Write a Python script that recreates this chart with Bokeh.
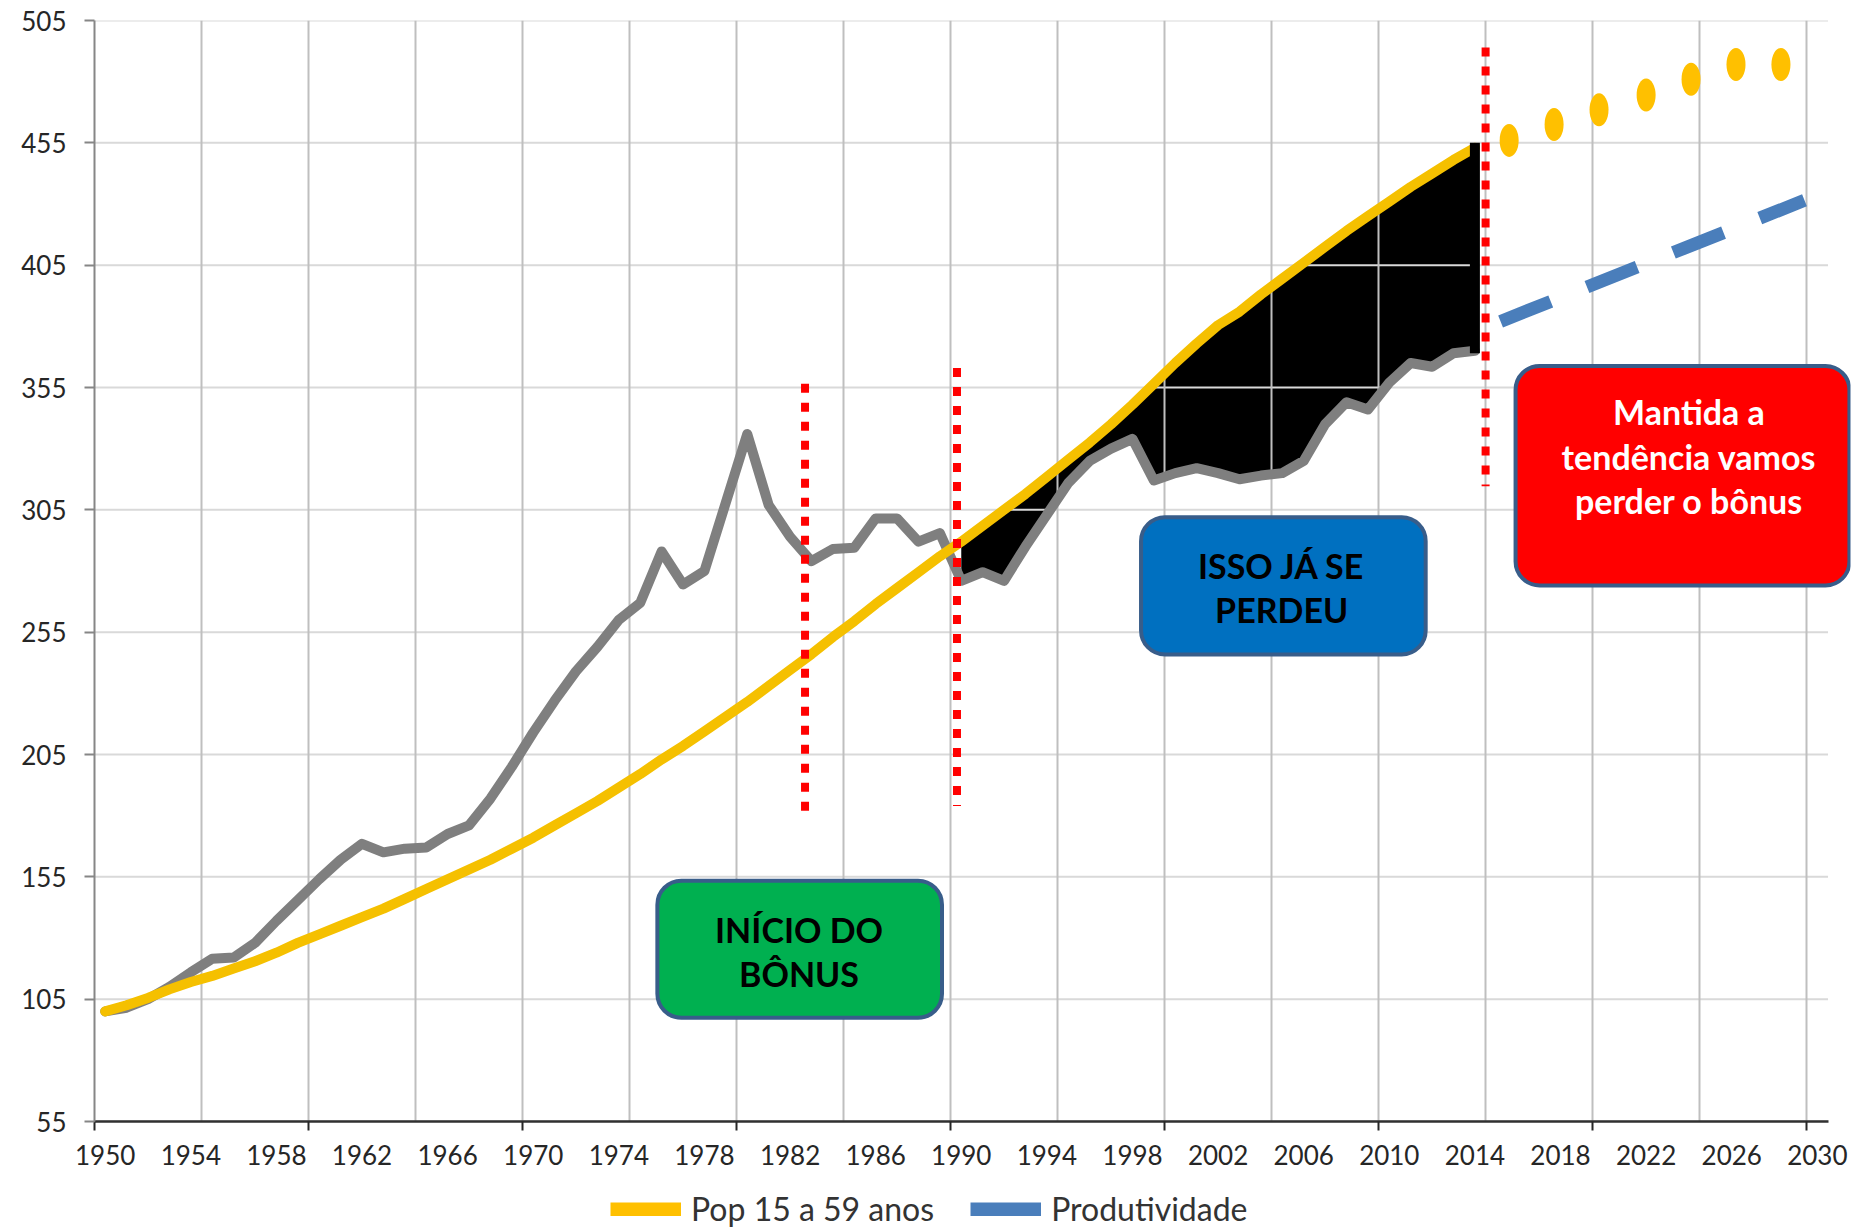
from bokeh.plotting import figure
from bokeh.layouts import column
from bokeh.models import FixedTicker, Legend, LegendItem, BoxAnnotation, Label, Range1d
from bokeh.embed import file_html
from bokeh.resources import INLINE

# ---------------- data ----------------
years = list(range(1950, 2015))
pop_15_59 = [100, 102.5, 105.5, 109, 112, 114.5, 117.5, 120.5, 124, 128,
             131.5, 135, 138.5, 142, 146, 150, 154, 158, 162, 166.5,
             171, 176, 181, 186, 191.5, 197, 203, 208.5, 214.5, 220.5,
             226.5, 233, 239.5, 246, 253, 259.5, 266.5, 273, 279.5, 286,
             292, 298.5, 305, 311.5, 318.5, 325.5, 332.5, 340, 348, 356.5,
             365, 373, 380.5, 386, 393, 399.5, 406, 412.5, 419, 425,
             431, 437, 442.5, 448, 453]
productivity = [100, 101.5, 105, 110, 116, 121.5, 122, 128, 137, 145.5,
                154, 162, 168.5, 165, 166.5, 167, 172.5, 176, 187, 200,
                214, 227, 239, 249, 260, 267, 288, 274.5, 280, 308,
                336, 307, 294, 284, 289, 289.5, 301.5, 301.5, 292, 295.5,
                276, 279.5, 276, 290, 303, 316, 325, 330, 334, 317,
                320, 322, 320, 317.5, 319, 320, 325, 340, 349, 346,
                357, 365, 363.5, 369, 370]
proj_years = [2015.6, 2017.7, 2019.8, 2022.0, 2024.1, 2026.2, 2028.3]
proj_pop = [456, 462.5, 468.5, 474.5, 481, 487, 487]
trend_years = [2015.2, 2029.4]
trend_prod = [382, 431.5]
marker_years = [1982.7, 1989.8, 2014.5]
marker_top = [356.5, 363, 494]
marker_bottom = [178, 184, 314.6]
x_labels = list(range(1950, 2031, 4))
y_ticks = list(range(55, 506, 50))
series_names = ["Pop 15 a 59 anos", "Produtividade"]
gap_start = 1990
x_start, x_end = 1949.5, 2030.5

FONT = "Lato"

p = figure(width=1868, height=1182, output_backend="svg", toolbar_location=None,
           x_range=Range1d(x_start, 2031.55), y_range=Range1d(55, 505),
           min_border_left=94, min_border_right=18, min_border_top=20, min_border_bottom=61)
p.outline_line_color = None
p.background_fill_color = "white"

# axes
p.xaxis.ticker = FixedTicker(ticks=x_labels, minor_ticks=[x_start + 10 * k for k in range(9)])
p.xaxis.bounds = (x_start, x_end)
p.xaxis.major_tick_out = 0
p.xaxis.major_tick_in = 0
p.xaxis.minor_tick_out = 9
p.xaxis.minor_tick_in = 0
p.xaxis.minor_tick_line_color = "#262626"
p.xaxis.minor_tick_line_width = 2
p.xaxis.axis_line_color = "#303030"
p.xaxis.axis_line_width = 2.5
p.xaxis.major_label_standoff = 14
p.xaxis.major_label_text_font = FONT
p.xaxis.major_label_text_font_size = "26px"
p.xaxis.major_label_text_color = "#262626"

p.yaxis.ticker = FixedTicker(ticks=y_ticks)
p.yaxis.major_tick_out = 10
p.yaxis.major_tick_in = 0
p.yaxis.minor_tick_out = 0
p.yaxis.minor_tick_in = 0
p.yaxis.major_tick_line_color = "#868686"
p.yaxis.major_tick_line_width = 2
p.yaxis.axis_line_color = "#868686"
p.yaxis.axis_line_width = 2
p.yaxis.major_label_standoff = 18
p.yaxis.major_label_text_font = FONT
p.yaxis.major_label_text_font_size = "26px"
p.yaxis.major_label_text_color = "#262626"

# grids
p.xgrid.ticker = FixedTicker(ticks=[1954.5 + 5 * k for k in range(16)])
p.xgrid.grid_line_color = "#bfbfbf"
p.xgrid.grid_line_width = 2
p.ygrid.visible = False
p.segment(x0=[x_start] * len(y_ticks), y0=y_ticks, x1=[x_end] * len(y_ticks), y1=y_ticks,
          line_color="#d9d9d9", line_width=2, level="underlay")

# black gap area (below grid level so grid shows through)
i0 = years.index(gap_start)
p.varea(x=years[i0:], y1=productivity[i0:], y2=pop_15_59[i0:], fill_color="black", level="image")

# lines
p.line(years, productivity, line_color="#7f7f7f", line_width=10, line_join="round", line_cap="round")
p.line(years, pop_15_59, line_color="#f5c000", line_width=10, line_join="round", line_cap="round")
p.segment(x0=[years[-1]], y0=[productivity[-1] - 1], x1=[years[-1]], y1=[pop_15_59[-1] + 2],
          line_color="black", line_width=10)

# projections
p.ellipse(x=proj_years, y=proj_pop, width=19, height=33, width_units="screen", height_units="screen",
          fill_color="#ffc000", line_color=None)
p.line(trend_years, trend_prod, line_color="#4a7ebb", line_width=13, line_dash="54 39")

# red dotted markers
p.segment(x0=marker_years, y0=marker_top, x1=marker_years, y1=marker_bottom,
          line_color="#ff0000", line_width=8, line_dash="9 10")

# annotation boxes
boxes = [
    (1975.8, 1989.1, 153.4, 97.4, "#00b050", ["INÍCIO DO", "BÔNUS"], 1982.42, [133.5, 115.5], "black"),
    (1998.4, 2011.7, 302.0, 245.9, "#0070c0", ["ISSO JÁ SE", "PERDEU"], 2004.97, [282.4, 264.4], "black"),
    (2015.9, 2031.5, 363.8, 274.1, "#ff0000", ["Mantida a", "tendência vamos", "perder o bônus"], 2024.0,
     [345.3, 326.8, 308.8], "white"),
]
for left, right, top, bottom, color, lines, tx, tys, tcol in boxes:
    p.add_layout(BoxAnnotation(left=left, right=right, top=top, bottom=bottom, fill_color=color,
                               fill_alpha=1, line_color="#385d8a", line_width=4, line_alpha=1,
                               border_radius=24))
    for txt, ty in zip(lines, tys):
        p.add_layout(Label(x=tx, y=ty, text=txt, text_align="center", text_baseline="middle",
                           text_font=FONT, text_font_style="bold", text_font_size="34px",
                           text_color=tcol))

# legend strip (its frame is aligned with the main plot's frame, starting at x=94)
lg = figure(width=1868, height=46, output_backend="svg", toolbar_location=None,
            x_range=Range1d(0, 1), y_range=Range1d(0, 1),
            x_axis_type=None, y_axis_type=None, min_border=0)
lg.outline_line_color = None
lg.grid.visible = False
# swatch renderers kept outside the visible range: only their legend glyphs show
leg_pop = lg.line(x=[0, 1], y=[-5, -5], line_color="#ffc000", line_width=14)
leg_prod = lg.line(x=[0, 1], y=[-5, -5], line_color="#4a7ebb", line_width=14)
legend = Legend(items=[LegendItem(label=series_names[0], renderers=[leg_pop]),
                       LegendItem(label=series_names[1], renderers=[leg_prod])],
                orientation="horizontal", location=(516, 0), glyph_width=71, glyph_height=14,
                label_standoff=10, spacing=36, padding=0, margin=0, border_line_color=None,
                background_fill_alpha=0, label_text_font=FONT, label_text_font_size="32px",
                label_text_color="#333333")
lg.add_layout(legend, "center")

open("out.html", "w").write(file_html(column(p, lg, spacing=0), INLINE))
